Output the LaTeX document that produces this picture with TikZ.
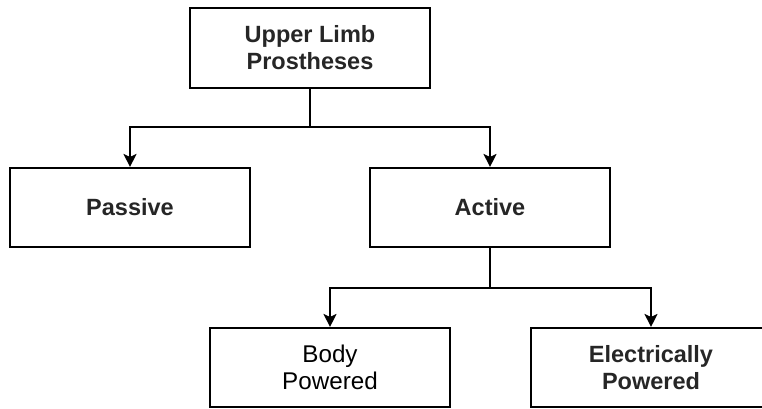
\documentclass[tikz,border=0pt]{standalone}
\usepackage{fontspec}
\setmainfont{Liberation Sans}
\usetikzlibrary{arrows.meta}
\begin{document}
\begin{tikzpicture}[x=1pt,y=-1pt,
  box/.style={draw=black, line width=1.6pt, minimum width=240pt, minimum height=79.5pt,
    align=center, inner sep=0pt, text=black!85,
    font=\bfseries\fontsize{23.5}{27}\selectfont},
  regbox/.style={box, text=black, font=\mdseries\fontsize{24.2}{27}\selectfont},
  conn/.style={draw=black, line width=1.6pt,
    -{Stealth[length=13pt,width=13pt,inset=3pt]}}]
\useasboundingbox (0,0) rectangle (762,409);
\node[box] (top) at (310,48) {Upper Limb\\Prostheses};
\node[box] (passive) at (130,207.5) {Passive};
\node[box] (active) at (490,207.5) {Active};
\node[regbox] (body) at (330,367.5) {Body\\Powered};
\node[box] (elec) at (651,367.5) {Electrically\\Powered};
\coordinate (j1) at (310,127);
\coordinate (j2) at (490,288);
\draw[line width=1.6pt] (top.south) -- (j1);
\draw[conn] (j1) -| (passive.north);
\draw[conn] (j1) -| (active.north);
\draw[line width=1.6pt] (active.south) -- (j2);
\draw[conn] (j2) -| (body.north);
\draw[conn] (j2) -| (elec.north);
\end{tikzpicture}
\end{document}
